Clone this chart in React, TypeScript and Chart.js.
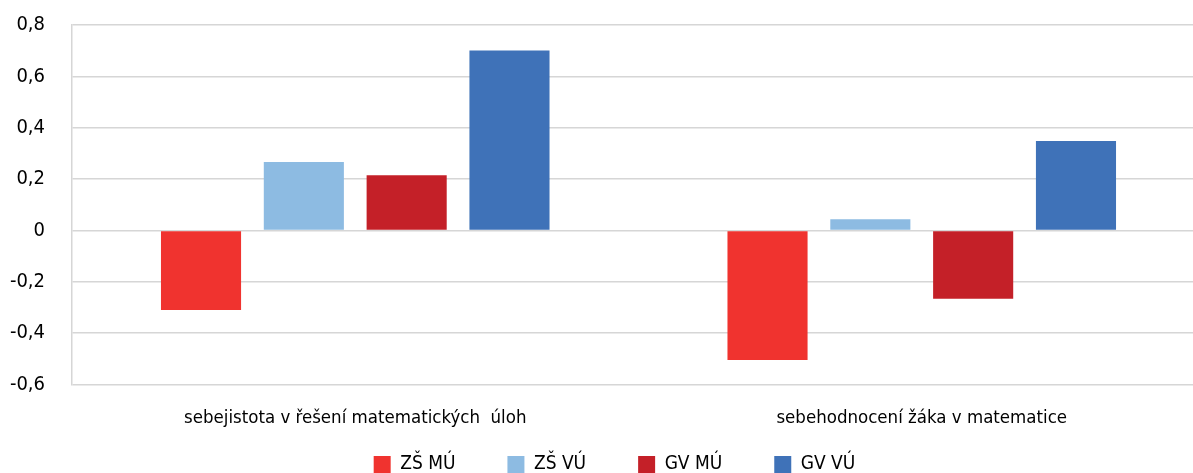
import React, { useEffect, useRef } from "react";
import { Chart, registerables } from "chart.js";

Chart.register(...registerables);

const categories = [
  "sebejistota v řešení matematických  úloh",
  "sebehodnocení žáka v matematice",
];
const seriesNames = ["ZŠ MÚ", "ZŠ VÚ", "GV MÚ", "GV VÚ"];
const zsMu = [-0.31, -0.505];
const zsVu = [0.266, 0.044];
const gvMu = [0.215, -0.266];
const gvVu = [0.701, 0.348];
const seriesColors = ["#F0332F", "#8DBBE2", "#C42028", "#3F72B8"];
const yMin = -0.6;
const yMax = 0.8;
const yStep = 0.2;

const FONT = "'Liberation Sans Narrow', 'DejaVu Sans Condensed', 'Roboto Condensed', sans-serif";

const legendShift = {
  id: "legendShift",
  afterLayout(chart: any) {
    const lg = chart.legend;
    if (lg) {
      lg.left += 12;
      lg.right += 12;
    }
  },
};

export default function App() {
  const ref = useRef<HTMLCanvasElement | null>(null);

  useEffect(() => {
    document.documentElement.style.overflow = "hidden";
    document.body.style.overflow = "hidden";
    const canvas = ref.current;
    if (!canvas) return;
    const values = [zsMu, zsVu, gvMu, gvVu];
    const chart = new Chart(canvas, {
      type: "bar",
      data: {
        labels: categories,
        datasets: seriesNames.map((name, i) => ({
          label: name,
          data: values[i],
          backgroundColor: seriesColors[i],
          borderColor: seriesColors[i],
          borderWidth: 0,
          categoryPercentage: 0.726,
          barPercentage: 0.779,
        })),
      },
      plugins: [legendShift],
      options: {
        responsive: false,
        animation: false,
        layout: { padding: { top: 25, left: 0, right: 10, bottom: 0 } },
        plugins: {
          tooltip: { enabled: false },
          legend: {
            position: "bottom",
            labels: {
              boxWidth: 17,
              boxHeight: 17,
              padding: 52,
              color: "#000",
              font: { family: FONT, size: 19 },
            },
          },
        },
        scales: {
          x: {
            grid: { display: false, drawTicks: false },
            border: { display: false },
            afterFit: (scale: any) => {
              scale.height = 18.5;
              scale.paddingLeft = 0;
              scale.paddingRight = 0;
              scale._computeLabelArea = () => undefined;
            },
            ticks: {
              color: "#000",
              padding: 23,
              maxRotation: 0,
              font: { family: FONT, size: 18.5 },
            },
          },
          y: {
            min: yMin,
            max: yMax,
            afterFit: (scale: any) => {
              scale.width = 72;
              scale.paddingTop = 0;
              scale.paddingBottom = 0;
            },
            ticks: {
              stepSize: yStep,
              color: "#000",
              padding: 27,
              font: { family: FONT, size: 20 },
              callback: (v: any) => {
                const n = Math.round(Number(v) * 10) / 10;
                return n.toString().replace(".", ",");
              },
            },
            grid: { color: "#d6d6d6", lineWidth: 1.5, drawTicks: false },
            border: { display: true, color: "#d6d6d6", width: 1.5 },
          },
        },
      },
    });
    return () => chart.destroy();
  }, []);

  return (
    <div style={{ position: "fixed", left: 0, top: 0, width: 1193, height: 473, overflow: "hidden", background: "#fff" }}>
      <canvas ref={ref} width={1215} height={484} style={{ display: "block" }} />
    </div>
  );
}
